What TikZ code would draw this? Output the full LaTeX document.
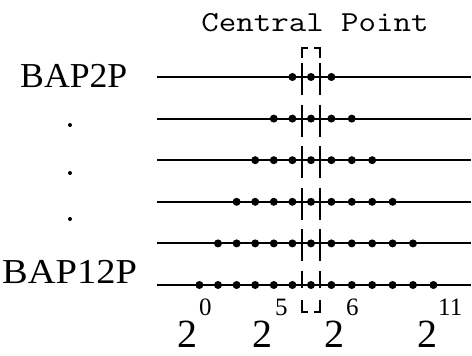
\documentclass[tikz,border=0pt]{standalone}
\usepackage{fontspec}
\setmainfont{Liberation Serif}
\usetikzlibrary{positioning, calc}

\begin{document}
\begin{tikzpicture}[
    x=1pt, y=-1pt,
    axis/.style={line width=2pt},
    dotmark/.style={fill=black},
    bracket/.style={line width=2pt},
    dashedcol/.style={line width=2pt, dash pattern=on 32pt off 9.6pt},
    rowlabel/.style={anchor=base west, inner sep=0pt, font=\fontsize{35}{35}\selectfont},
    powlabel/.style={anchor=base west, inner sep=0pt, font=\fontsize{40}{40}\selectfont},
    vdots/.style={fill=black}
]
\useasboundingbox (0,0) rectangle (472,356);

% Title
\node (title) [anchor=base, inner sep=0pt] at (315,31) {\scalebox{1.17}[1]{\ttfamily\fontsize{29}{29}\selectfont Central Point}};

% Row labels
\node (bap2) [rowlabel] at (20,87) {\scalebox{1.02}[1]{BAP2P}};
\node (bap12) [rowlabel] at (2,283) {\scalebox{1.1}[1]{BAP12P}};
\fill[vdots] (70,125) circle (2pt);
\fill[vdots] (70,173) circle (2pt);
\fill[vdots] (70,219) circle (2pt);

% Rows of sample points
\foreach \k in {1,...,6} {
    \pgfmathsetmacro\yy{77+41.6*(\k-1)}
    \coordinate (l\k) at (157,\yy);
    \coordinate (r\k) at (471,\yy);
    \draw [axis] (l\k) -- (r\k);
    \foreach \j in {-\k,...,\k} {
        \pgfmathsetmacro\xx{ifthenelse(\j<0, 311+18.6*\j, 311+20.4*\j)}
        \fill [dotmark] (\xx,\yy) circle (4pt);
    }
}

% Central point box
\coordinate (tl) at (302,48);
\coordinate (tr) at (320,48);
\coordinate (bl) at (302,312);
\coordinate (br) at (320,312);
\draw [bracket] ($(tl)+(0,10)$) -- (tl) -- ($(tl)+(6,0)$);
\draw [bracket] ($(tr)+(-6,0)$) -- (tr) -- ($(tr)+(0,10)$);
\draw [bracket] ($(bl)+(0,-12)$) -- (bl) -- ($(bl)+(6,0)$);
\draw [bracket] ($(br)+(-6,0)$) -- (br) -- ($(br)+(0,-12)$);
\draw [dashedcol] ($(tl)+(0,15)$) -- ($(bl)+(0,-24)$);
\draw [dashedcol] ($(tr)+(0,15)$) -- ($(br)+(0,-24)$);

% Powers of two
\node (e0) [powlabel] at (177,347) {2\kern2pt\raisebox{32pt}{\fontsize{25}{25}\selectfont 0}};
\node (e5) [powlabel] at (252,347) {2\kern3pt\raisebox{32pt}{\fontsize{25}{25}\selectfont 5}};
\node (e6) [powlabel] at (324,347) {2\kern2pt\raisebox{32pt}{\fontsize{25}{25}\selectfont 6}};
\node (e11) [powlabel] at (417,347) {2\kern1pt\raisebox{32pt}{\fontsize{25}{25}\selectfont 11}};

\end{tikzpicture}
\end{document}
